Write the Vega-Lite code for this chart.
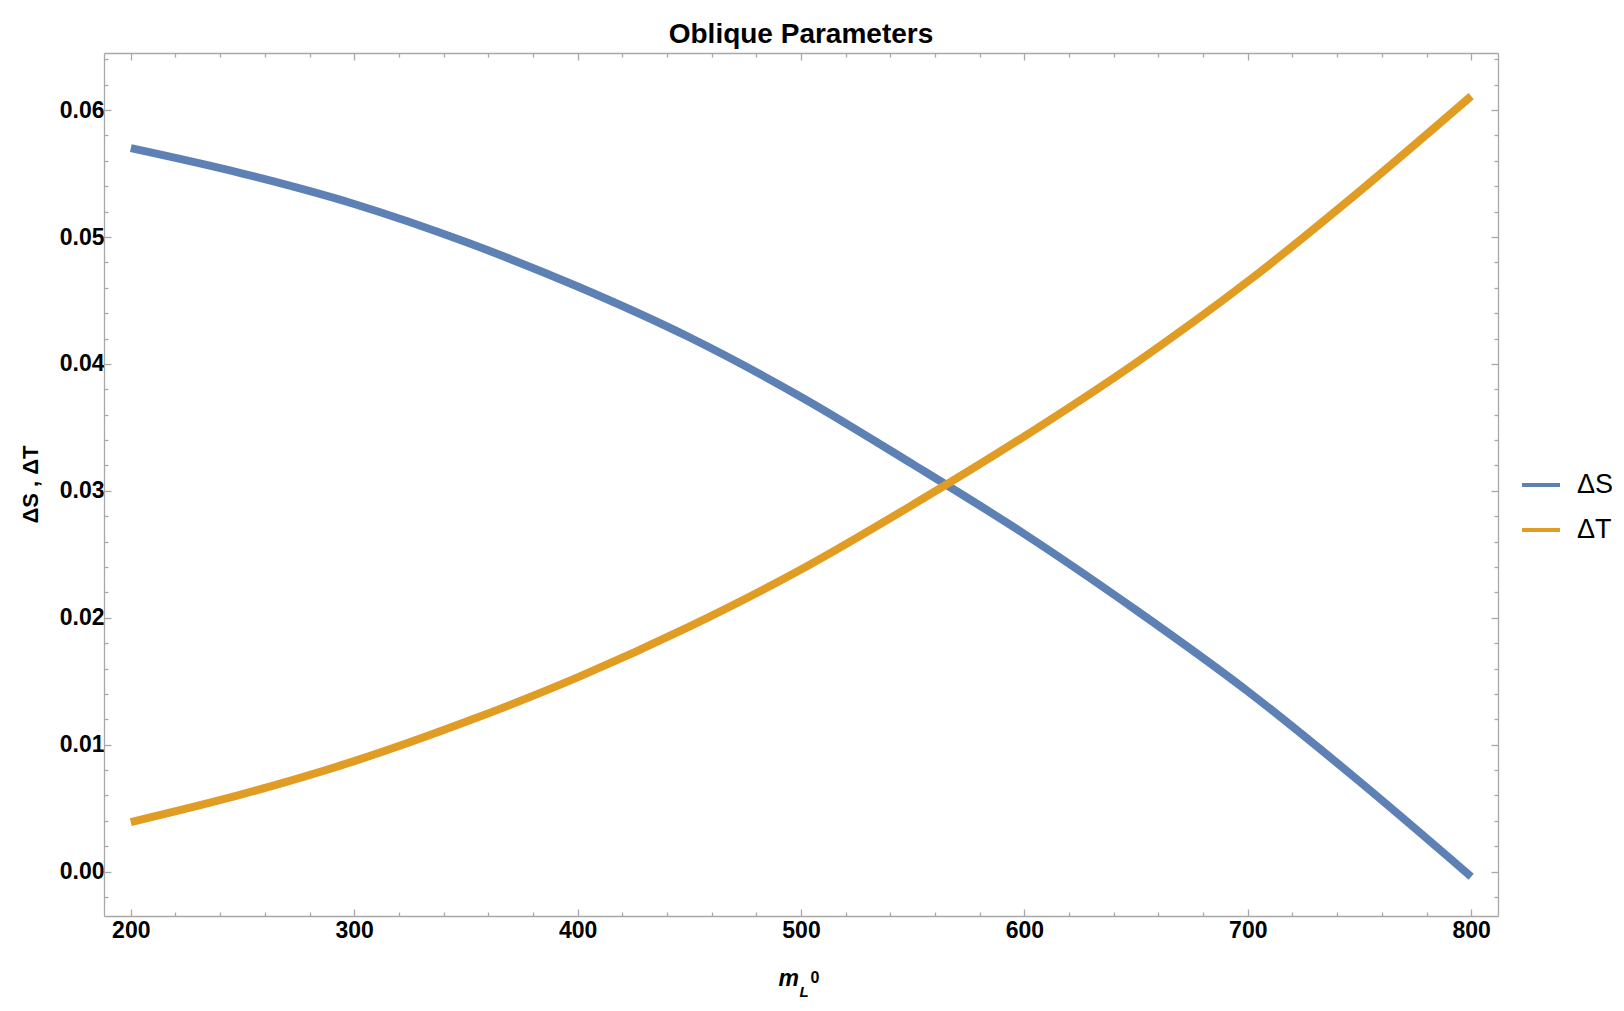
{
  "$schema": "https://vega.github.io/schema/vega-lite/v6.json",
  "autosize": {"type": "none"},
  "width": 1394,
  "height": 863,
  "padding": {"left": 104, "top": 53, "right": 126, "bottom": 95},
  "background": "white",
  "config": {
    "font": "Liberation Sans",
    "view": {"stroke": null},
    "axis": {
      "grid": false,
      "domainColor": "#a8a8a8",
      "domainWidth": 1.3,
      "tickColor": "#a8a8a8",
      "tickWidth": 1.3,
      "labelFont": "Liberation Sans",
      "labelFontWeight": "bold",
      "labelFontSize": 23,
      "labelColor": "black",
      "titleFont": "Liberation Sans",
      "titleColor": "black"
    }
  },
  "title": {
    "text": "Oblique Parameters",
    "font": "Liberation Sans",
    "fontSize": 28,
    "fontWeight": "bold",
    "color": "black",
    "anchor": "middle",
    "frame": "group",
    "baseline": "alphabetic",
    "offset": 10,
    "dy": 33
  },
  "data": {
    "values": [
      {"m": 200, "series": "ΔS", "v": 0.0570},
      {"m": 250, "series": "ΔS", "v": 0.0550},
      {"m": 300, "series": "ΔS", "v": 0.0526},
      {"m": 350, "series": "ΔS", "v": 0.0496},
      {"m": 400, "series": "ΔS", "v": 0.0461},
      {"m": 450, "series": "ΔS", "v": 0.0421},
      {"m": 500, "series": "ΔS", "v": 0.0374},
      {"m": 550, "series": "ΔS", "v": 0.0321},
      {"m": 600, "series": "ΔS", "v": 0.0266},
      {"m": 650, "series": "ΔS", "v": 0.0206},
      {"m": 700, "series": "ΔS", "v": 0.0142},
      {"m": 750, "series": "ΔS", "v": 0.0071},
      {"m": 800, "series": "ΔS", "v": -0.0004},
      {"m": 200, "series": "ΔT", "v": 0.0039},
      {"m": 250, "series": "ΔT", "v": 0.0061},
      {"m": 300, "series": "ΔT", "v": 0.0087},
      {"m": 350, "series": "ΔT", "v": 0.0118},
      {"m": 400, "series": "ΔT", "v": 0.0153},
      {"m": 450, "series": "ΔT", "v": 0.0193},
      {"m": 500, "series": "ΔT", "v": 0.0238},
      {"m": 550, "series": "ΔT", "v": 0.0289},
      {"m": 600, "series": "ΔT", "v": 0.0343},
      {"m": 650, "series": "ΔT", "v": 0.0401},
      {"m": 700, "series": "ΔT", "v": 0.0465},
      {"m": 750, "series": "ΔT", "v": 0.0536},
      {"m": 800, "series": "ΔT", "v": 0.0611}
    ]
  },
  "layer": [
    {
      "mark": {"type": "line", "strokeWidth": 8, "interpolate": "monotone", "strokeCap": "butt", "clip": true},
      "encoding": {
        "x": {
          "field": "m", "type": "quantitative",
          "scale": {"domain": [188, 812], "nice": false, "zero": false},
          "axis": {
            "orient": "bottom",
            "values": [200,220,240,260,280,300,320,340,360,380,400,420,440,460,480,500,520,540,560,580,600,620,640,660,680,700,720,740,760,780,800],
            "labelExpr": "datum.value % 100 === 0 ? datum.label : ''",
            "tickSize": {"condition": {"test": "datum.value % 100 === 0", "value": -7}, "value": -4},
            "labelPadding": 10,
            "labelFlush": false,
            "labelOverlap": false,
            "title": "m",
            "titleFontSize": 23,
            "titleFontWeight": "bold",
            "titleFontStyle": "italic",
            "titleX": 674,
            "titleY": 69,
            "titleAlign": "left",
            "titleBaseline": "alphabetic",
            "titleAngle": 0
          }
        },
        "y": {
          "field": "v", "type": "quantitative",
          "scale": {"domain": [-0.0035, 0.0645], "nice": false, "zero": false},
          "axis": {
            "orient": "left",
            "values": [-0.002,0,0.002,0.004,0.006,0.008,0.01,0.012,0.014,0.016,0.018,0.02,0.022,0.024,0.026,0.028,0.03,0.032,0.034,0.036,0.038,0.04,0.042,0.044,0.046,0.048,0.05,0.052,0.054,0.056,0.058,0.06,0.062,0.064],
            "labelExpr": "abs(datum.value*100 - round(datum.value*100)) < 0.001 ? format(datum.value, '.2f') : ''",
            "tickSize": {"condition": {"test": "abs(datum.value*100 - round(datum.value*100)) < 0.001", "value": -7}, "value": -4},
            "labelPadding": 7,
            "labelFlush": false,
            "labelOverlap": false,
            "title": "ΔS , ΔT",
            "titleFontSize": 22,
            "titleFontWeight": "bold",
            "titleAngle": -90,
            "titleX": -74,
            "titleY": 431,
            "titleAlign": "center",
            "titleBaseline": "middle"
          }
        },
        "color": {
          "field": "series", "type": "nominal",
          "scale": {"domain": ["ΔS", "ΔT"], "range": ["#5E81B5", "#E19C24"]},
          "legend": {
            "title": null,
            "orient": "none",
            "legendX": 1416,
            "legendY": 411,
            "symbolType": "stroke",
            "symbolSize": 1444,
            "symbolStrokeWidth": 4,
            "labelFont": "Liberation Sans",
            "labelFontSize": 27,
            "labelColor": "black",
            "labelOffset": 15,
            "rowPadding": 11
          }
        }
      }
    },
    {
      "mark": {"type": "line", "strokeOpacity": 0, "strokeWidth": 0},
      "encoding": {
        "x": {
          "field": "m", "type": "quantitative",
          "axis": {
            "orient": "top",
            "values": [200,220,240,260,280,300,320,340,360,380,400,420,440,460,480,500,520,540,560,580,600,620,640,660,680,700,720,740,760,780,800],
            "labels": false,
            "tickSize": {"condition": {"test": "datum.value % 100 === 0", "value": -7}, "value": -4},
            "title": "L",
            "titleFontSize": 15,
            "titleFontWeight": "bold",
            "titleFontStyle": "italic",
            "titleX": 695,
            "titleY": 943,
            "titleAlign": "left",
            "titleBaseline": "alphabetic",
            "titleAngle": 0
          }
        },
        "y": {
          "field": "v", "type": "quantitative",
          "axis": {
            "orient": "right",
            "values": [-0.002,0,0.002,0.004,0.006,0.008,0.01,0.012,0.014,0.016,0.018,0.02,0.022,0.024,0.026,0.028,0.03,0.032,0.034,0.036,0.038,0.04,0.042,0.044,0.046,0.048,0.05,0.052,0.054,0.056,0.058,0.06,0.062,0.064],
            "labels": false,
            "tickSize": {"condition": {"test": "abs(datum.value*100 - round(datum.value*100)) < 0.001", "value": -7}, "value": -4},
            "title": "0",
            "titleFontSize": 16,
            "titleFontWeight": "bold",
            "titleX": -688,
            "titleY": 929,
            "titleAlign": "left",
            "titleBaseline": "alphabetic",
            "titleAngle": 0
          }
        },
        "detail": {"field": "series", "type": "nominal"}
      }
    }
  ],
  "resolve": {"axis": {"x": "independent", "y": "independent"}}
}
